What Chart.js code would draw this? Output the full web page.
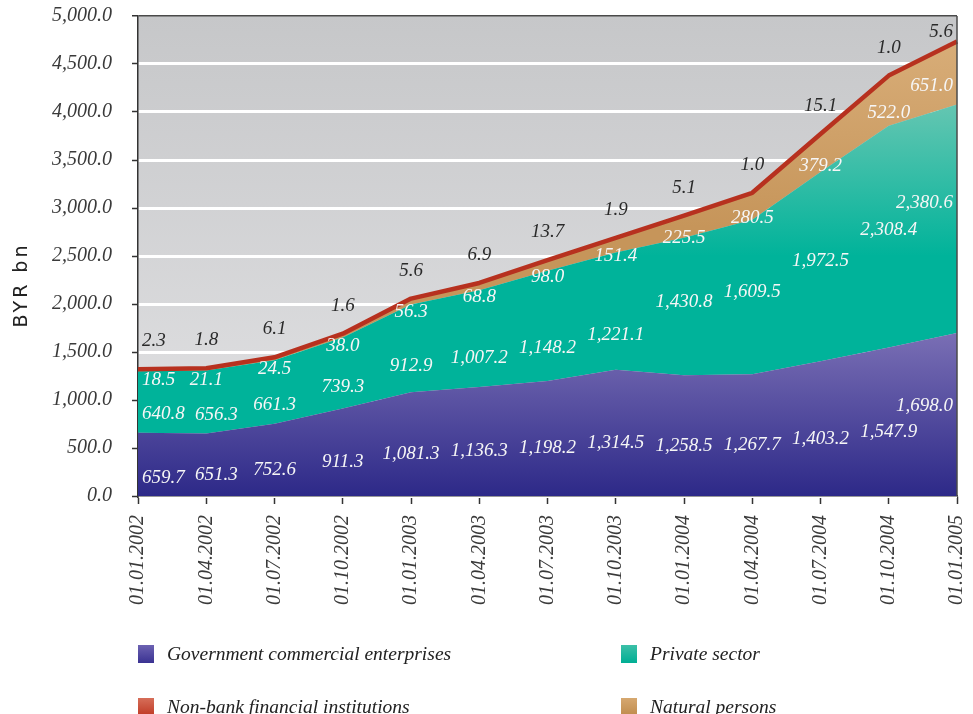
<!DOCTYPE html>
<html>
<head>
<meta charset="utf-8">
<script src="https://cdn.jsdelivr.net/npm/chart.js@4.4.1/dist/chart.umd.min.js"></script>
<style>
  body { margin: 0; background: #fff; }
  #wrap { position: relative; width: 973px; height: 714px; }
  .lg { position: absolute; display: flex; align-items: center; font: italic 19.5px "Liberation Serif", serif; color: #222; white-space: nowrap; }
  .lg .bx { display: inline-block; width: 16px; height: 18px; }
</style>
</head>
<body>
<div id="wrap">
  <canvas id="chart" width="973" height="714"></canvas>
</div>
<script>
// dados do grafico
const dates = ['01.01.2002', '01.04.2002', '01.07.2002', '01.10.2002', '01.01.2003', '01.04.2003', '01.07.2003',
               '01.10.2003', '01.01.2004', '01.04.2004', '01.07.2004', '01.10.2004', '01.01.2005'];
const govEnterprises = [659.7, 651.3, 752.6, 911.3, 1081.3, 1136.3, 1198.2, 1314.5, 1258.5, 1267.7, 1403.2, 1547.9, 1698.0];
const privateSector  = [640.8, 656.3, 661.3, 739.3, 912.9, 1007.2, 1148.2, 1221.1, 1430.8, 1609.5, 1972.5, 2308.4, 2380.6];
const naturalPersons = [18.5, 21.1, 24.5, 38.0, 56.3, 68.8, 98.0, 151.4, 225.5, 280.5, 379.2, 522.0, 651.0];
const nonBankInst    = [2.3, 1.8, 6.1, 1.6, 5.6, 6.9, 13.7, 1.9, 5.1, 1.0, 15.1, 1.0, 5.6];
const seriesNames = ['Government commercial enterprises', 'Private sector', 'Natural persons', 'Non-bank financial institutions'];
const yMin = 0, yMax = 5000, yStep = 500;
const axisTitle = 'BYR bn';

const fmt = v => v.toLocaleString('en-US', { minimumFractionDigits: 1, maximumFractionDigits: 1 });
const serif = 'Liberation Serif';

// gradiente vertical entre dois valores do eixo y
function vGrad(chart, vTop, vBottom, cTop, cBottom) {
  const { ctx, chartArea, scales } = chart;
  if (!chartArea) return cBottom;
  const g = ctx.createLinearGradient(0, scales.y.getPixelForValue(vTop), 0, scales.y.getPixelForValue(vBottom));
  g.addColorStop(0, cTop);
  g.addColorStop(1, cBottom);
  return g;
}

// fundo cinza da area do grafico
const bgPlugin = {
  id: 'plotBg',
  beforeDraw(chart) {
    const { ctx, chartArea: a } = chart;
    const g = ctx.createLinearGradient(0, a.top, 0, a.bottom);
    g.addColorStop(0, '#c6c7c9');
    g.addColorStop(1, '#e3e3e5');
    ctx.save();
    ctx.fillStyle = g;
    ctx.fillRect(a.left, a.top, a.right - a.left, a.bottom - a.top);
    ctx.restore();
  }
};

// borda direita e titulo do eixo
const framePlugin = {
  id: 'frame',
  afterDraw(chart) {
    const { ctx, chartArea: a } = chart;
    ctx.save();
    ctx.strokeStyle = '#4a4a4a';
    ctx.lineWidth = 1.5;
    ctx.beginPath();
    ctx.moveTo(a.right, a.top);
    ctx.lineTo(a.right, a.bottom);
    ctx.stroke();
    ctx.translate(22, 285);
    ctx.rotate(-Math.PI / 2);
    ctx.font = '19px "DejaVu Sans"';
    ctx.letterSpacing = '3px';
    ctx.fillStyle = '#222';
    ctx.textAlign = 'center';
    ctx.textBaseline = 'middle';
    ctx.fillText(axisTitle, 0, 0);
    ctx.restore();
  }
};

// rotulos de valores
const labelPlugin = {
  id: 'segLabels',
  afterDatasetsDraw(chart) {
    const { ctx, chartArea, scales: { x, y } } = chart;
    const last = dates.length - 1;
    ctx.save();
    ctx.font = 'italic 19px "' + serif + '"';
    ctx.textBaseline = 'middle';
    dates.forEach((d, i) => {
      let tx = x.getPixelForValue(i);
      ctx.textAlign = 'center';
      if (i === 0) { ctx.textAlign = 'left'; tx = chartArea.left + 4; }
      if (i === 1) tx += 10;
      if (i === last) { ctx.textAlign = 'right'; tx = chartArea.right - 4; }
      const g = govEnterprises[i], p = privateSector[i], n = naturalPersons[i], b = nonBankInst[i];
      ctx.fillStyle = '#f6f6f6';
      // empresas estatais
      const gy = i === last ? y.getPixelForValue(g * 0.55) : y.getPixelForValue(g / 2) + (i === 0 ? 14 : 10);
      ctx.fillText(fmt(g), tx, gy);
      // setor privado
      const pf = i === last ? 0.57 : (i < 8 ? 0.3 : 0.53);
      ctx.fillText(fmt(p), tx, y.getPixelForValue(g + p * pf));
      // pessoas fisicas
      const base = y.getPixelForValue(g + p);
      const top = y.getPixelForValue(g + p + n);
      const nx = i === 1 ? tx - 10 : tx;
      ctx.fillText(fmt(n), nx, base + 10 - 0.45 * (base - top));
      // instituicoes nao bancarias
      ctx.fillStyle = '#2a2a2a';
      ctx.fillText(fmt(b), nx, Math.max(chartArea.top + 16, y.getPixelForValue(g + p + n + b) - 28));
    });
    ctx.restore();
  }
};

const ctx = document.getElementById('chart').getContext('2d');
new Chart(ctx, {
  type: 'line',
  data: {
    labels: dates,
    datasets: [
      {
        label: seriesNames[0],
        data: govEnterprises,
        fill: 'origin',
        backgroundColor: c => vGrad(c.chart, 1750, 0, '#7c71b6', '#2d2988'),
        borderColor: 'rgba(0,0,0,0)',
        borderWidth: 0
      },
      {
        label: seriesNames[1],
        data: privateSector,
        fill: '-1',
        backgroundColor: c => vGrad(c.chart, 4100, 2500, '#66c6b2', '#00b39a'),
        borderColor: 'rgba(0,0,0,0)',
        borderWidth: 0
      },
      {
        label: seriesNames[2],
        data: naturalPersons,
        fill: '-1',
        backgroundColor: c => vGrad(c.chart, 4750, 2800, '#d8ad78', '#c6955a'),
        borderColor: 'rgba(0,0,0,0)',
        borderWidth: 0
      },
      {
        label: seriesNames[3],
        data: nonBankInst,
        fill: '-1',
        backgroundColor: '#b7311f',
        borderColor: '#b7311f',
        borderWidth: 4.5
      }
    ]
  },
  options: {
    responsive: false,
    animation: false,
    layout: { padding: { top: 16, right: 16, left: 0, bottom: 0 } },
    elements: { point: { radius: 0 }, line: { tension: 0, borderJoinStyle: 'round' } },
    plugins: {
      legend: { display: false },
      tooltip: { enabled: false },
      filler: { drawTime: 'beforeDatasetsDraw' }
    },
    scales: {
      x: {
        offset: false,
        grid: { display: true, drawOnChartArea: false, tickLength: 8, tickColor: '#333', tickWidth: 1.5 },
        border: { color: '#333', width: 1.5 },
        ticks: {
          minRotation: 90, maxRotation: 90, padding: 11, color: '#3a3a3a',
          font: { family: serif, style: 'italic', size: 20 }
        },
        afterFit(s) { s.height = 218; s.paddingLeft = 0; s.paddingRight = 0; }
      },
      y: {
        stacked: true,
        min: yMin, max: yMax,
        ticks: {
          stepSize: yStep, padding: 20, color: '#3a3a3a',
          font: { family: serif, style: 'italic', size: 20 },
          callback: v => fmt(v)
        },
        grid: {
          color: c => c.tick && c.tick.value === yMax ? '#4a4a4a' : '#ffffff',
          lineWidth: c => c.tick && c.tick.value === yMax ? 1.5 : 3,
          tickLength: 6, tickColor: '#333', tickWidth: 1.5
        },
        border: { color: '#333', width: 1.5 },
        afterFit(s) { s.width = 138; s.paddingTop = 0; s.paddingBottom = 0; }
      }
    }
  },
  plugins: [bgPlugin, framePlugin, labelPlugin]
});

// legenda em html
const legendItems = [
  { name: seriesNames[0], bg: 'linear-gradient(#6c62b2, #3a3292)', left: 138, top: 643 },
  { name: seriesNames[1], bg: 'linear-gradient(#3cc0a8, #00ae94)', left: 621, top: 643 },
  { name: seriesNames[3], bg: 'linear-gradient(#d66e59, #bf3924)', left: 138, top: 696 },
  { name: seriesNames[2], bg: 'linear-gradient(#d6a870, #bf8b4c)', left: 621, top: 696 }
];
const wrap = document.getElementById('wrap');
legendItems.forEach(it => {
  const div = document.createElement('div');
  div.className = 'lg';
  div.style.left = it.left + 'px';
  div.style.top = it.top + 'px';
  div.innerHTML = '<span class="bx" style="background:' + it.bg + '"></span><span style="margin-left:13px">' + it.name + '</span>';
  wrap.appendChild(div);
});
</script>
</body>
</html>
